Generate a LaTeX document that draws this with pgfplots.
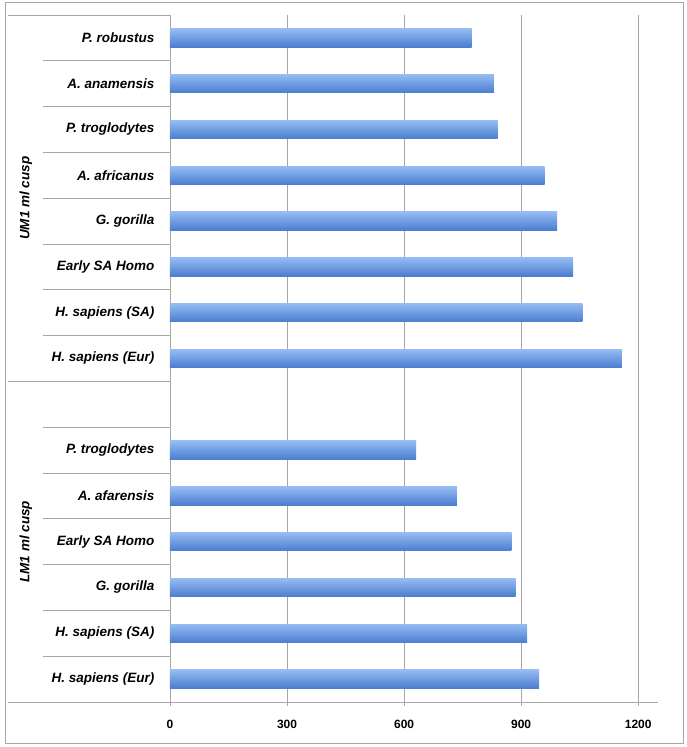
\documentclass[border=0pt]{standalone}
\usepackage{pgfplots}
\pgfplotsset{compat=1.18}
\usepackage{fontspec}
\setmainfont{Liberation Sans}
\definecolor{gridgray}{HTML}{A6A6A6}
\definecolor{bartop}{HTML}{95BBF3}
\definecolor{barbot}{HTML}{4A7ECF}

\pgfplotsset{
    onebar/.style={xbar, bar width=18.3pt, bar shift=0pt, draw=none,
        top color=bartop, bottom color=barbot, forget plot},
}

\begin{document}
\begin{tikzpicture}[x=1pt,y=1pt]
\useasboundingbox (0,0) rectangle (686,747);
\draw[gridgray,line width=1pt] (5,3) rectangle (683,744);
\begin{axis}[
    at={(170pt,45pt)}, anchor=south west,
    scale only axis,
    width=487.7pt, height=687pt,
    xmin=0, xmax=1250,
    ymin=-0.5, ymax=14.5,
    clip=false,
    axis x line*=bottom,
    axis y line*=left,
    axis line style={gridgray,line width=0.8pt,-},
    xtick={0,300,600,900,1200},
    xmajorgrids,
    major grid style={gridgray,line width=0.8pt},
    tick align=outside,
    major tick length=4pt,
    x tick style={gridgray,line width=0.8pt},
    y tick style={draw=none},
    /pgf/number format/1000 sep={},
    /pgf/number format/assume math mode=true,
    x tick label style={font=\fontsize{12}{14}\selectfont\bfseries, yshift=-11pt},
    ytick={0,1,2,3,4,5,7,8,9,10,11,12,13,14},
    yticklabels={H. sapiens (Eur),H. sapiens (SA),G. gorilla,Early SA Homo,A. afarensis,P. troglodytes,
                 H. sapiens (Eur),H. sapiens (SA),Early SA Homo,G. gorilla,A. africanus,P. troglodytes,A. anamensis,P. robustus},
    y tick label style={font=\fontsize{13.5}{15}\selectfont\bfseries\itshape, xshift=-8pt},
]
% LM1 ml cusp (0-5), gap at 6
\addplot[onebar] coordinates {(946,0)};
\addplot[onebar] coordinates {(915,1)};
\addplot[onebar] coordinates {(886,2)};
\addplot[onebar] coordinates {(875,3)};
\addplot[onebar] coordinates {(735,4)};
\addplot[onebar] coordinates {(631,5)};
% UM1 ml cusp (7-14)
\addplot[onebar] coordinates {(1158,7)};
\addplot[onebar] coordinates {(1057,8)};
\addplot[onebar] coordinates {(1033,9)};
\addplot[onebar] coordinates {(992,10)};
\addplot[onebar] coordinates {(960,11)};
\addplot[onebar] coordinates {(840,12)};
\addplot[onebar] coordinates {(830,13)};
\addplot[onebar] coordinates {(773,14)};
% category separators
\pgfplotsinvokeforeach{0.5,1.5,2.5,3.5,4.5,5.5,7.5,8.5,9.5,10.5,11.5,12.5,13.5}{
    \draw[gridgray,line width=0.8pt] ([xshift=-127pt]axis cs:0,#1) -- (axis cs:0,#1);
}
\pgfplotsinvokeforeach{-0.5,6.5,14.5}{
    \draw[gridgray,line width=0.8pt] ([xshift=-162pt]axis cs:0,#1) -- (axis cs:0,#1);
}
\node[rotate=90, font=\fontsize{13.5}{15}\selectfont\bfseries\itshape] at ([xshift=-144pt]axis cs:0,10.5) {UM1 ml cusp};
\node[rotate=90, font=\fontsize{13.5}{15}\selectfont\bfseries\itshape] at ([xshift=-144pt]axis cs:0,3) {LM1 ml cusp};
\end{axis}
\end{tikzpicture}
\end{document}
